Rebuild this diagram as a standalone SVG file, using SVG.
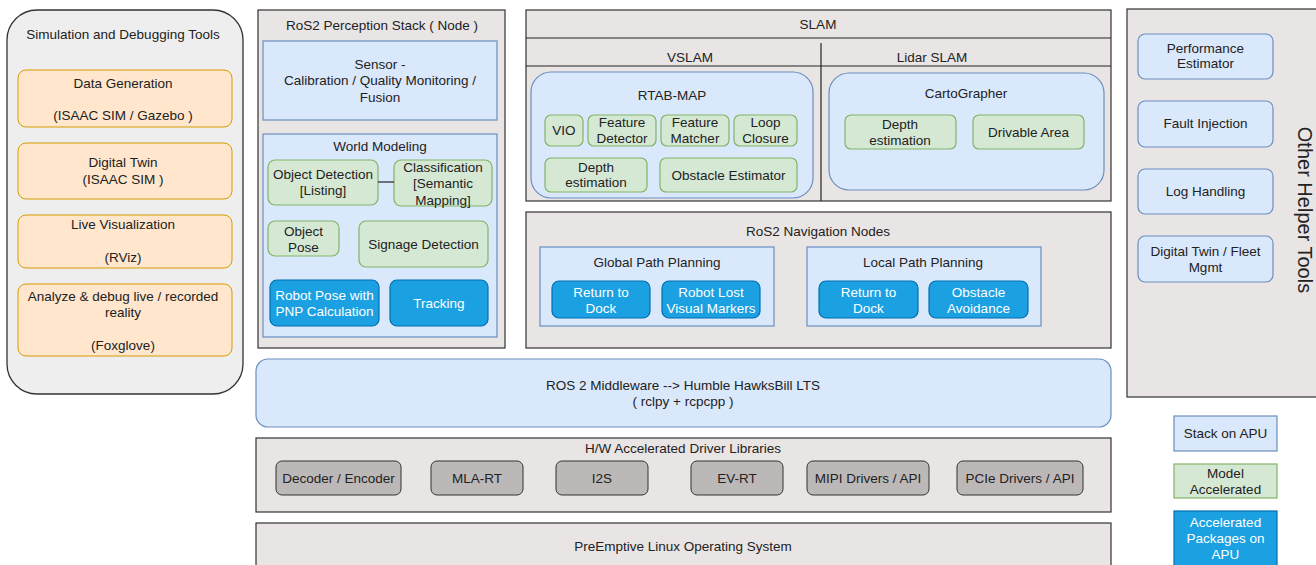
<svg xmlns="http://www.w3.org/2000/svg" width="1316" height="565" viewBox="0 0 1316 565">
<style>
text{font-family:"Liberation Sans",Arial,sans-serif;font-size:13.5px;fill:#222;text-anchor:middle;dominant-baseline:central}
.w{fill:#fff}
.big{font-size:20px}
.cont{fill:#e9e5e4;stroke:#333;stroke-width:1.2}
.sim{fill:#eeeeee;stroke:#333;stroke-width:1.3}
.org{fill:#ffe6cc;stroke:#d79b00;stroke-width:1}
.blu{fill:#dae8fc;stroke:#6c8ebf;stroke-width:1.2}
.grn{fill:#d5e8d4;stroke:#82b366;stroke-width:1.2}
.acc{fill:#1ba1e2;stroke:#006eaf;stroke-width:1.2}
.gry{fill:#bcb8b7;stroke:#333;stroke-width:1}
.ln{stroke:#222;stroke-width:1.2;fill:none}
</style>

<g id="sim-tools">
<rect class="sim" x="7" y="10" width="236" height="384" rx="30"/>
<text x="123" y="34">Simulation and Debugging Tools</text>
<g id="data-gen"><rect class="org" x="18" y="70" width="214" height="57" rx="8"/><text x="123" y="83">Data Generation</text><text x="123" y="115">(ISAAC SIM / Gazebo )</text></g>
<g id="digital-twin"><rect class="org" x="18" y="143" width="214" height="56" rx="8"/><text x="123" y="162">Digital Twin</text><text x="123" y="179">(ISAAC SIM )</text></g>
<g id="live-vis"><rect class="org" x="18" y="215" width="214" height="53" rx="8"/><text x="123" y="224">Live Visualization</text><text x="123" y="257">(RViz)</text></g>
<g id="analyze"><rect class="org" x="18" y="284" width="214" height="72" rx="8"/><text x="123" y="296">Analyze &amp; debug live / recorded</text><text x="123" y="312">reality</text><text x="123" y="345">(Foxglove)</text></g>
</g>

<g id="perception">
<rect class="cont" x="258" y="10" width="247" height="338"/>
<text x="382" y="25">RoS2 Perception Stack ( Node )</text>
<g id="sensor"><rect class="blu" x="263" y="41" width="234" height="79"/><text x="380" y="64">Sensor -</text><text x="380" y="80">Calibration / Quality Monitoring /</text><text x="380" y="97">Fusion</text></g>
<g id="world-modeling"><rect class="blu" x="263" y="134" width="234" height="203"/><text x="380" y="146">World Modeling</text></g>
<g id="obj-det"><rect class="grn" x="268" y="160" width="110" height="45" rx="7"/><text x="323" y="174">Object Detection</text><text x="323" y="190">[Listing]</text></g>
<g id="classification"><rect class="grn" x="394" y="160" width="98" height="46" rx="7"/><text x="443" y="167">Classification</text><text x="443" y="183.5">[Semantic</text><text x="443" y="200">Mapping]</text></g>
<g id="obj-pose"><rect class="grn" x="268" y="221" width="71" height="35" rx="7"/><text x="303.5" y="231">Object</text><text x="303.5" y="247">Pose</text></g>
<g id="signage"><rect class="grn" x="359" y="221" width="129" height="46" rx="7"/><text x="423.5" y="244">Signage Detection</text></g>
<g id="robot-pose"><rect class="acc" x="270" y="280" width="109" height="46" rx="7"/><text class="w" x="324.5" y="295">Robot Pose with</text><text class="w" x="324.5" y="311">PNP Calculation</text></g>
<g id="tracking"><rect class="acc" x="390" y="280" width="98" height="46" rx="7"/><text class="w" x="439" y="303">Tracking</text></g>
</g>

<g id="slam">
<rect class="cont" x="526" y="10" width="585" height="191"/>
<line class="ln" x1="526" y1="38" x2="1111" y2="38"/>
<line class="ln" x1="526" y1="66" x2="1111" y2="66"/>
<line class="ln" x1="821" y1="43" x2="821" y2="201"/>
<text x="818" y="24">SLAM</text>
<text x="690" y="57">VSLAM</text>
<text x="932" y="57">Lidar SLAM</text>
<g id="rtab-map"><rect class="blu" x="531" y="72" width="282" height="126" rx="20"/><text x="672" y="95">RTAB-MAP</text></g>
<g id="vio"><rect class="grn" x="545" y="115" width="38" height="31" rx="6"/><text x="564" y="130">VIO</text></g>
<g id="feat-det"><rect class="grn" x="588" y="115" width="68" height="31" rx="6"/><text x="622" y="122">Feature</text><text x="622" y="138">Detector</text></g>
<g id="feat-match"><rect class="grn" x="661" y="115" width="68" height="31" rx="6"/><text x="695" y="122">Feature</text><text x="695" y="138">Matcher</text></g>
<g id="loop-closure"><rect class="grn" x="734" y="115" width="63" height="31" rx="6"/><text x="765.5" y="122">Loop</text><text x="765.5" y="138">Closure</text></g>
<g id="depth-v"><rect class="grn" x="545" y="158" width="102" height="34" rx="6"/><text x="596" y="167">Depth</text><text x="596" y="182">estimation</text></g>
<g id="obstacle-est"><rect class="grn" x="660" y="158" width="137" height="34" rx="6"/><text x="728.5" y="175">Obstacle Estimator</text></g>
<g id="cartographer"><rect class="blu" x="829" y="73" width="275" height="117" rx="20"/><text x="966" y="93">CartoGrapher</text></g>
<g id="depth-l"><rect class="grn" x="845" y="115" width="111" height="34" rx="6"/><text x="900" y="124">Depth</text><text x="900" y="140">estimation</text></g>
<g id="drivable"><rect class="grn" x="973" y="115" width="111" height="34" rx="6"/><text x="1028.5" y="132">Drivable Area</text></g>
</g>

<g id="navigation">
<rect class="cont" x="526" y="212" width="585" height="136"/>
<text x="818" y="231">RoS2 Navigation Nodes</text>
<g id="global-path"><rect class="blu" x="540" y="247" width="234" height="79"/><text x="657" y="262">Global Path Planning</text></g>
<g id="g-return"><rect class="acc" x="552" y="281" width="98" height="37" rx="7"/><text class="w" x="601" y="292">Return to</text><text class="w" x="601" y="308">Dock</text></g>
<g id="robot-lost"><rect class="acc" x="662" y="281" width="98" height="37" rx="7"/><text class="w" x="711" y="292">Robot Lost</text><text class="w" x="711" y="308">Visual Markers</text></g>
<g id="local-path"><rect class="blu" x="807" y="247" width="234" height="79"/><text x="923" y="262">Local Path Planning</text></g>
<g id="l-return"><rect class="acc" x="819" y="281" width="99" height="37" rx="7"/><text class="w" x="868.5" y="292">Return to</text><text class="w" x="868.5" y="308">Dock</text></g>
<g id="obstacle-avoid"><rect class="acc" x="929" y="281" width="99" height="37" rx="7"/><text class="w" x="978.5" y="292">Obstacle</text><text class="w" x="978.5" y="308">Avoidance</text></g>
</g>

<g id="helper-tools">
<rect class="cont" x="1127" y="9" width="200" height="388"/>
<text class="big" x="1305" y="210" transform="rotate(90 1305 210)">Other Helper Tools</text>
<g id="perf"><rect class="blu" x="1138" y="34" width="135" height="45" rx="7"/><text x="1205.5" y="48">Performance</text><text x="1205.5" y="63">Estimator</text></g>
<g id="fault"><rect class="blu" x="1138" y="101" width="135" height="46" rx="7"/><text x="1205.5" y="123">Fault Injection</text></g>
<g id="log"><rect class="blu" x="1138" y="169" width="135" height="45" rx="7"/><text x="1205.5" y="191">Log Handling</text></g>
<g id="fleet"><rect class="blu" x="1138" y="236" width="135" height="46" rx="7"/><text x="1205.5" y="251">Digital Twin / Fleet</text><text x="1205.5" y="267">Mgmt</text></g>
</g>

<g id="middleware">
<rect class="blu" x="256" y="359" width="855" height="68" rx="12"/>
<text x="683" y="385">ROS 2 Middleware --&gt; Humble HawksBill LTS</text>
<text x="683" y="401">( rclpy + rcpcpp )</text>
</g>

<g id="hw-libs">
<rect class="cont" x="256" y="438" width="855" height="74"/>
<text x="683" y="448">H/W Accelerated  Driver Libraries</text>
<g id="decoder"><rect class="gry" x="276" y="461" width="125" height="34" rx="6"/><text x="338.5" y="478">Decoder / Encoder</text></g>
<g id="mla-rt"><rect class="gry" x="431" y="461" width="92" height="34" rx="6"/><text x="477" y="478">MLA-RT</text></g>
<g id="i2s"><rect class="gry" x="556" y="461" width="92" height="34" rx="6"/><text x="602" y="478">I2S</text></g>
<g id="ev-rt"><rect class="gry" x="691" y="461" width="92" height="34" rx="6"/><text x="737" y="478">EV-RT</text></g>
<g id="mipi"><rect class="gry" x="807" y="461" width="122" height="34" rx="6"/><text x="868" y="478">MIPI Drivers / API</text></g>
<g id="pcie"><rect class="gry" x="957" y="461" width="126" height="34" rx="6"/><text x="1020" y="478">PCIe Drivers / API</text></g>
</g>

<g id="linux">
<rect class="cont" x="256" y="523" width="855" height="50"/>
<text x="683" y="546">PreEmptive Linux Operating System</text>
</g>

<g id="legend">
<g id="leg-stack"><rect class="blu" x="1174" y="416" width="103" height="35"/><text x="1225.5" y="433">Stack on APU</text></g>
<g id="leg-model"><rect class="grn" x="1174" y="464" width="103" height="34"/><text x="1225.5" y="473">Model</text><text x="1225.5" y="489">Accelerated</text></g>
<g id="leg-acc"><rect class="acc" x="1174" y="511" width="103" height="60"/><text class="w" x="1225.5" y="522">Accelerated</text><text class="w" x="1225.5" y="538">Packages on</text><text class="w" x="1225.5" y="554">APU</text></g>
</g>

<g id="connectors">
<line class="ln" x1="378" y1="182" x2="394" y2="182"/>
</g>
</svg>
